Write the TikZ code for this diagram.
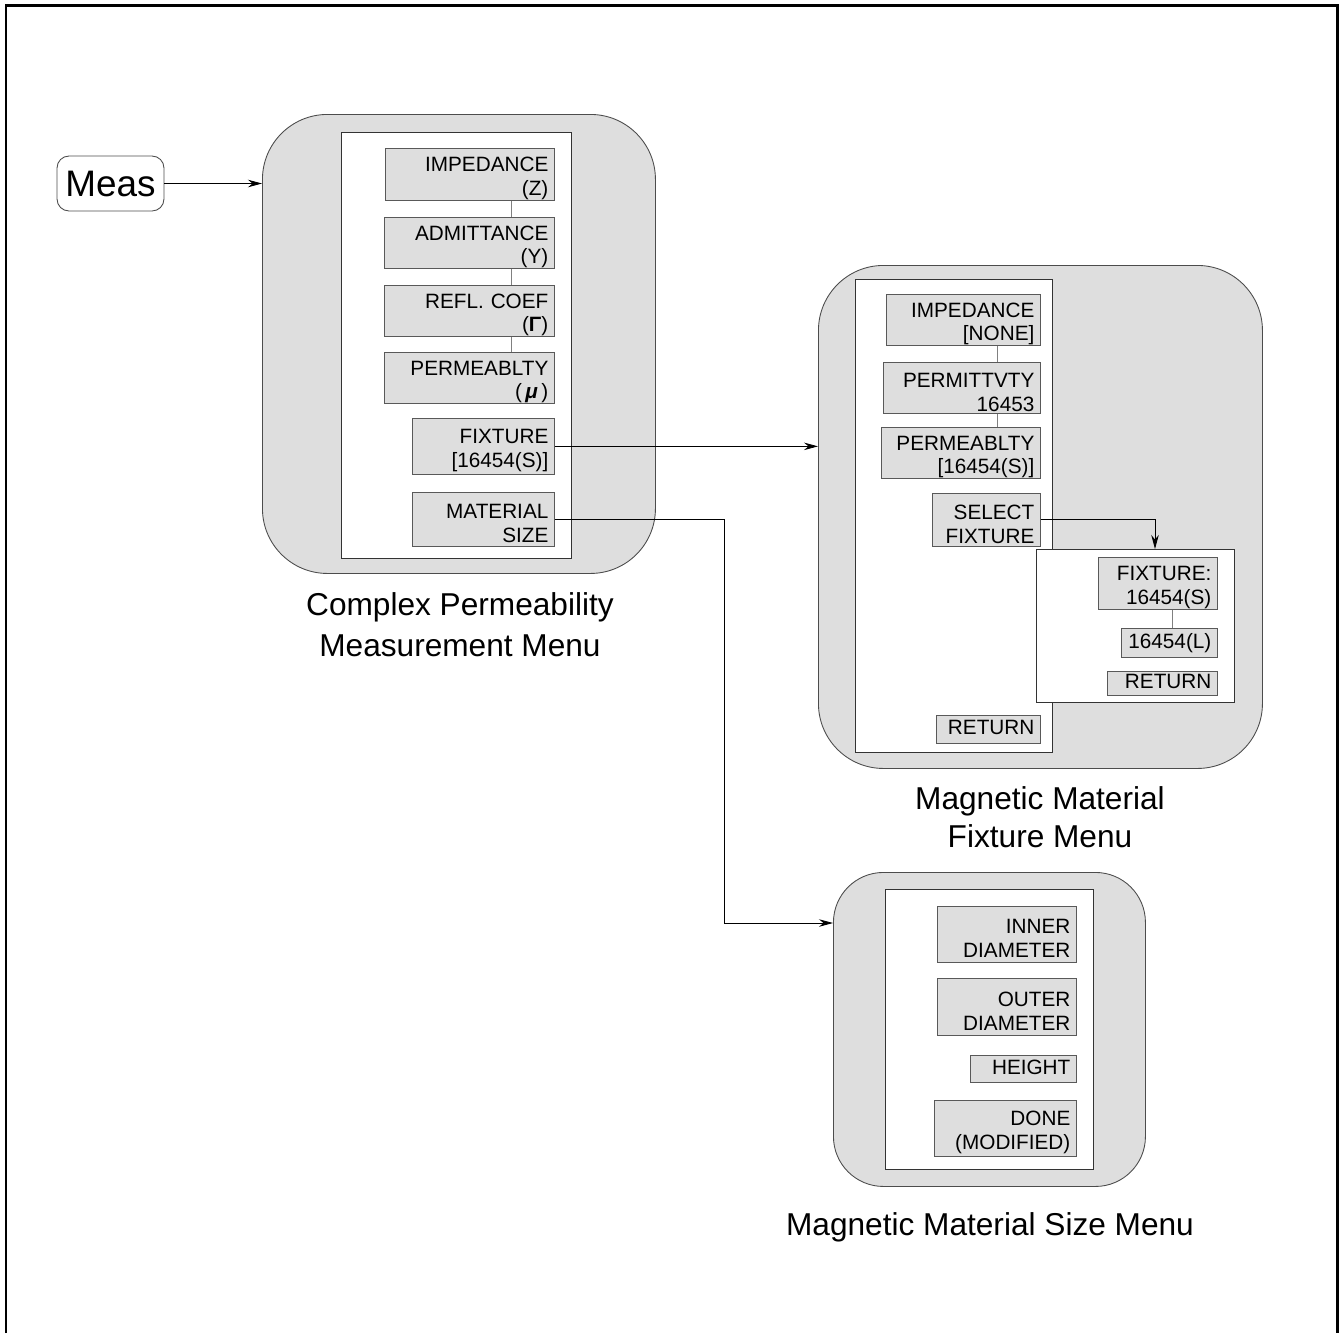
\documentclass[tikz,border=0pt]{standalone}
\usepackage{fontspec}
\setmainfont{Liberation Sans}
\usetikzlibrary{arrows.meta}
\newcommand\mkbox[7][]{%
  \pgfmathsetmacro\mkw{(#5-#3)*0.02}%
  \pgfmathsetmacro\mkh{(#6-#4)*0.02}%
  \pgfmathsetmacro\mktw{(#5-#3-12)*0.02}%
  \node[#1, anchor=north west, inner xsep=0.12cm, inner ysep=0pt,
        minimum width=\mkw cm, minimum height=\mkh cm, text width=\mktw cm] (#2) at (#3,#4) {#7};}
\begin{document}
\begin{tikzpicture}[x=0.02cm,y=-0.02cm,
  frame/.style={line width=0.06cm},
  menu/.style={draw=black!70, fill=black!13, line width=0.5pt, rounded corners=#1},
  panel/.style={draw=black!80, fill=white, line width=0.5pt},
  btn/.style={draw=black!65, fill=black!13, line width=0.4pt, align=right,
              text height=13pt,
              font=\fontsize{11.8}{13.5}\selectfont},
  btnone/.style={btn, text height=8.6pt, text depth=2.5pt},
  link/.style={draw=black!50, line width=0.5pt},
  arr/.style={draw=black, line width=0.5pt, -{Stealth[length=0.28cm,width=0.15cm]}},
  meas/.style={draw=black!70, line width=0.5pt, rounded corners=0.24cm,
               minimum width=2.14cm, minimum height=1.1cm, inner sep=0pt,
               font=\fontsize{21}{21}\selectfont},
  caption/.style={align=center, font=\fontsize{18}{23.5}\selectfont},
]
\useasboundingbox (0,0) rectangle (1339,1333);
\draw[frame] (6,1333) -- (6,5) -- (1337,5) -- (1337,1333);

% Meas key
\node[meas] (meas) at (110.5,183.5) {Meas};

% Menu 1: Complex Permeability Measurement Menu
\mkbox[menu=1.3cm]{m1}{262}{114}{655}{573}{}
\mkbox[panel]{p1}{341}{132}{571}{558}{}
\mkbox[btn]{imp}{385}{148}{554}{200}{IMPEDANCE\\(Z)}
\mkbox[btn]{adm}{384}{217}{554}{266}{ADMITTANCE\\(Y)}
\mkbox[btn]{refl}{384}{285}{554}{335}{REFL. COEF\\(\textbf{Γ})}
\mkbox[btn]{perm}{384}{352}{554}{402}{PERMEABLTY\\(\,\textbf{\textit{μ}}\,)}
\mkbox[btn]{fix}{412}{418}{554}{474}{FIXTURE\\{[}16454(S)]}
\mkbox[btn]{mat}{412}{492}{554}{546}{MATERIAL\\SIZE}
\node[caption] (c1) at (460,625) {Complex Permeability\\Measurement Menu};

% Menu 2: Magnetic Material Fixture Menu
\mkbox[menu=1.3cm]{m2}{818}{265}{1262}{768}{}
\mkbox[panel]{p2}{855}{279}{1052}{752}{}
\mkbox[btn]{imp2}{886}{294}{1040}{345}{IMPEDANCE\\{[}NONE]}
\mkbox[btn]{pmt}{883}{362}{1040}{413}{PERMITTVTY\\16453}
\mkbox[btn]{pmb}{881}{427}{1040}{478}{PERMEABLTY\\{[}16454(S)]}
\mkbox[btn]{sel}{932}{493}{1040}{546}{SELECT\\FIXTURE}
\mkbox[btnone]{ret2}{936}{715}{1040}{743}{RETURN}
\mkbox[panel]{sub}{1036}{549}{1234}{702}{}
\mkbox[btn]{fx}{1098}{557}{1217}{609}{FIXTURE:\\16454(S)}
\mkbox[btnone]{fl}{1121}{628}{1217}{657}{16454(L)}
\mkbox[btnone]{ret3}{1107}{671}{1217}{695}{RETURN}
\node[caption, font=\fontsize{18}{21.5}\selectfont] (c2) at (1040,817) {Magnetic Material\\Fixture Menu};

% Menu 3: Magnetic Material Size Menu
\mkbox[menu=1.0cm]{m3}{833}{872}{1145}{1186}{}
\mkbox[panel]{p3}{885}{889}{1093}{1169}{}
\mkbox[btn]{inn}{937}{906}{1076}{962}{INNER\\DIAMETER}
\mkbox[btn]{out}{937}{978}{1076}{1035}{OUTER\\DIAMETER}
\mkbox[btnone]{hgt}{970}{1055}{1076}{1082}{HEIGHT}
\mkbox[btn]{done}{934}{1100}{1076}{1156}{DONE\\(MODIFIED)}
\node[caption] (c3) at (990,1227) {Magnetic Material Size Menu};

% connectors between softkeys
\coordinate (lx1) at (511,0);
\coordinate (lx2) at (997,0);
\coordinate (lx3) at (1172,0);
\draw[link] (imp.south -| lx1) -- (adm.north -| lx1);
\draw[link] (adm.south -| lx1) -- (refl.north -| lx1);
\draw[link] (refl.south -| lx1) -- (perm.north -| lx1);
\draw[link] (imp2.south -| lx2) -- (pmt.north -| lx2);
\draw[link] (pmt.south -| lx2) -- (pmb.north -| lx2);
\draw[link] (fx.south -| lx3) -- (fl.north -| lx3);

% arrows
\coordinate (bend) at (724,923);
\coordinate (selx) at (1155,0);
\draw[arr] (meas.east) -- (meas.east -| m1.west);
\draw[arr] (fix.east) -- (fix.east -| m2.west);
\draw[arr] (mat.east) -| (bend) -- (bend -| m3.west);
\draw[arr] (sel.east) -| (selx |- sub.north);
\end{tikzpicture}
\end{document}
